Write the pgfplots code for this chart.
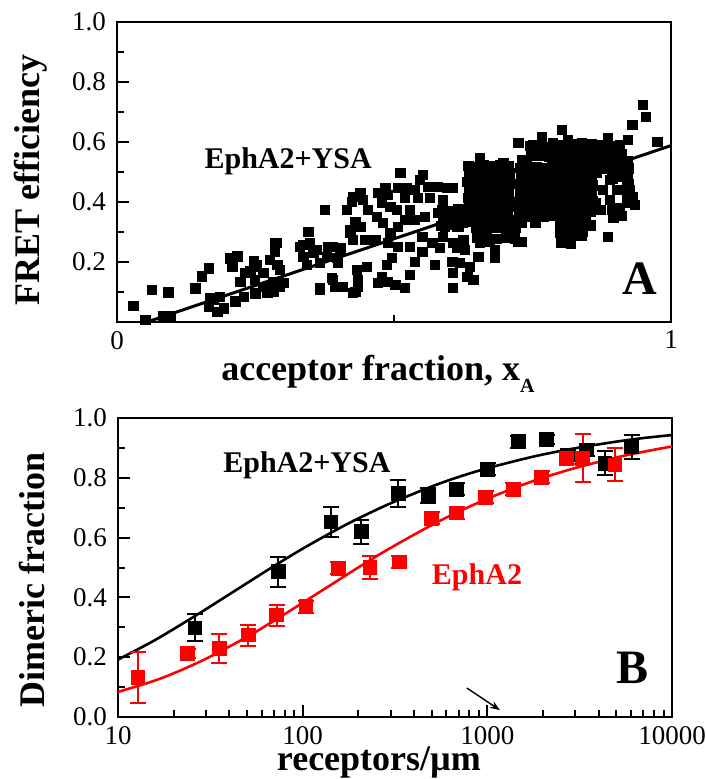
\documentclass[border=0pt]{standalone}
\usepackage{fontspec}
\setmainfont{Liberation Serif}
\usepackage{pgfplots}
\pgfplotsset{compat=1.18}
\usetikzlibrary{arrows.meta}
\definecolor{fitred}{RGB}{255,0,0}

\pgfplotsset{
  panel/.style={
    scale only axis, width=277pt,
    axis line style={line width=1pt},
    tick style={line width=1pt, black},
    major tick length=6pt, minor tick length=3.5pt,
    tick align=inside, tick pos=left,
    ticklabel style={font=\fontsize{13.5}{16}\selectfont},
    yticklabel style={xshift=-2pt},
    xticklabel style={yshift=-1pt},
    /pgf/number format/assume math mode=true,
    label style={font=\fontsize{18}{21}\selectfont\bfseries},
    yticklabel style={/pgf/number format/.cd, fixed, fixed zerofill, precision=1},
  },
  dots/.style={only marks, mark=square*, mark size=2.4pt, black},
}

\begin{document}
\begin{tikzpicture}
% ---- panel A ----
\begin{axis}[panel,
  at={(58.5pt,-11pt)}, anchor=north west, height=150pt,
  xmin=0, xmax=1, ymin=0, ymax=1,
  xtick={0,1}, xticklabels={0,1}, minor xtick={0.5},
  ytick={0.2,0.4,0.6,0.8,1.0}, minor ytick={0.1,0.3,0.5,0.7,0.9},
  ylabel={FRET efficiency},
  ylabel style={at={(axis description cs:-0.155,0.473)}, anchor=center},
  xlabel={acceptor fraction, x\raisebox{-6pt}{\fontsize{10}{10}\selectfont A}},
  xlabel style={at={(axis description cs:0.471,0)}, anchor=base, yshift=-29pt},
]
% scattered cells
\addplot[dots] coordinates {
(0.030,0.054) (0.051,0.007) (0.063,0.107) (0.093,0.099) (0.084,0.018) (0.096,0.018)
(0.141,0.112) (0.153,0.151) (0.166,0.179) (0.166,0.051) (0.175,0.073) (0.181,0.034)
(0.186,0.084) (0.193,0.046) (0.205,0.212) (0.208,0.184) (0.217,0.218) (0.214,0.068)
(0.223,0.134) (0.229,0.084) (0.241,0.168) (0.247,0.201) (0.250,0.096)
(0.168,0.080) (0.231,0.163) (0.249,0.183) (0.264,0.117) (0.271,0.097) (0.285,0.263)
(0.289,0.190) (0.282,0.133) (0.294,0.117) (0.336,0.257) (0.345,0.300) (0.354,0.230)
(0.366,0.107) (0.375,0.373) (0.381,0.250) (0.390,0.140) (0.397,0.213) (0.403,0.247)
(0.415,0.373) (0.421,0.297) (0.426,0.097) (0.426,0.417) (0.435,0.140) (0.430,0.333)
(0.435,0.117)
(0.252,0.190) (0.264,0.163) (0.249,0.140) (0.267,0.117) (0.276,0.207) (0.285,0.233)
(0.288,0.263) (0.282,0.100) (0.294,0.173) (0.300,0.130) (0.330,0.250) (0.336,0.217)
(0.348,0.263) (0.343,0.190) (0.361,0.240) (0.366,0.197) (0.366,0.113) (0.379,0.217)
(0.390,0.250) (0.388,0.147) (0.394,0.117) (0.399,0.197) (0.403,0.240) (0.408,0.117)
(0.421,0.307) (0.424,0.400) (0.426,0.273) (0.430,0.100) (0.439,0.430) (0.439,0.317)
(0.433,0.173) (0.444,0.407) (0.448,0.273) (0.451,0.183) (0.453,0.373) (0.469,0.350)
(0.466,0.273) (0.471,0.430) (0.478,0.397) (0.480,0.330) (0.471,0.130) (0.478,0.150)
(0.484,0.447) (0.487,0.190)
(0.511,0.497) (0.507,0.447) (0.489,0.423) (0.493,0.383) (0.505,0.373) (0.520,0.413)
(0.529,0.373) (0.538,0.440) (0.547,0.473) (0.552,0.490) (0.543,0.413) (0.565,0.413)
(0.556,0.350) (0.538,0.340) (0.520,0.340) (0.507,0.317) (0.493,0.297) (0.489,0.263)
(0.507,0.250) (0.529,0.250) (0.551,0.283) (0.569,0.263) (0.583,0.247) (0.496,0.213)
(0.538,0.200) (0.551,0.233) (0.529,0.157) (0.574,0.190) (0.489,0.133) (0.502,0.123)
(0.520,0.113) (0.579,0.450) (0.596,0.447) (0.605,0.447) (0.588,0.407) (0.579,0.363)
(0.592,0.317) (0.605,0.350) (0.614,0.317) (0.588,0.283) (0.606,0.263) (0.625,0.273)
(0.614,0.247) (0.628,0.240) (0.605,0.200) (0.619,0.197) (0.637,0.183) (0.606,0.163)
(0.632,0.150) (0.643,0.140) (0.606,0.113) (0.652,0.217) (0.623,0.330) (0.634,0.363)
(0.637,0.417) (0.632,0.467) (0.643,0.500) (0.655,0.547) (0.659,0.517) (0.652,0.467)
(0.661,0.450) (0.664,0.413) (0.652,0.373) (0.670,0.347) (0.664,0.297) (0.650,0.317)
(0.673,0.267) (0.655,0.263) (0.682,0.240) (0.682,0.213) (0.677,0.513) (0.686,0.457)
(0.697,0.530) (0.704,0.500) (0.706,0.467) (0.695,0.413) (0.688,0.373) (0.700,0.363)
(0.713,0.383) (0.691,0.313) (0.706,0.313) (0.722,0.340) (0.715,0.297) (0.724,0.267)
(0.731,0.540) (0.727,0.440) (0.724,0.597) (0.733,0.407) (0.561,0.450) (0.523,0.447)
(0.949,0.723) (0.955,0.683) (0.930,0.657) (0.922,0.607) (0.975,0.600) (0.886,0.613)
(0.803,0.640) (0.767,0.617) (0.751,0.590) (0.787,0.597) (0.814,0.607) (0.839,0.597)
(0.854,0.583) (0.740,0.540) (0.764,0.563) (0.787,0.563) (0.818,0.550) (0.848,0.563)
(0.875,0.573) (0.903,0.563) (0.913,0.530) (0.733,0.507) (0.758,0.517) (0.782,0.507)
(0.823,0.507) (0.841,0.517) (0.877,0.540) (0.895,0.517) (0.908,0.497) (0.740,0.463)
(0.764,0.473) (0.782,0.450) (0.794,0.483) (0.830,0.473) (0.848,0.473) (0.866,0.497)
(0.890,0.473) (0.921,0.473) (0.926,0.440) (0.931,0.417) (0.733,0.430) (0.751,0.417)
(0.776,0.417) (0.800,0.430) (0.830,0.440) (0.845,0.430) (0.877,0.440) (0.903,0.440)
(0.745,0.383) (0.769,0.397) (0.794,0.397) (0.818,0.407) (0.841,0.397) (0.863,0.397)
(0.890,0.407) (0.921,0.397) (0.935,0.390) (0.758,0.350) (0.782,0.363) (0.805,0.363)
(0.832,0.363) (0.854,0.367) (0.872,0.373) (0.755,0.330) (0.818,0.333) (0.841,0.340)
(0.812,0.317) (0.800,0.297) (0.823,0.297) (0.812,0.273) (0.841,0.300) (0.886,0.283)
(0.731,0.267) (0.731,0.330)
};
% the dense core of the cloud
\addplot[dots] coordinates {
(0.634,0.520) (0.648,0.515) (0.662,0.522) (0.677,0.518) (0.691,0.524) (0.706,0.520)
(0.636,0.493) (0.650,0.497) (0.664,0.490) (0.679,0.495) (0.693,0.491) (0.708,0.496)
(0.633,0.467) (0.647,0.463) (0.661,0.470) (0.676,0.465) (0.690,0.468) (0.705,0.462)
(0.635,0.440) (0.649,0.444) (0.663,0.437) (0.678,0.441) (0.692,0.438) (0.707,0.443)
(0.634,0.413) (0.648,0.410) (0.662,0.416) (0.677,0.411) (0.691,0.415) (0.706,0.409)
(0.636,0.387) (0.650,0.390) (0.664,0.384) (0.679,0.389) (0.693,0.385) (0.708,0.388)
(0.633,0.360) (0.647,0.357) (0.661,0.363) (0.676,0.358) (0.690,0.362) (0.705,0.356)
(0.635,0.333) (0.649,0.336) (0.663,0.330) (0.678,0.335) (0.692,0.331) (0.707,0.334)
(0.587,0.373) (0.601,0.370) (0.616,0.375) (0.589,0.347) (0.603,0.350) (0.614,0.345)
(0.586,0.320) (0.600,0.323) (0.617,0.318)
(0.727,0.513) (0.742,0.510) (0.756,0.516) (0.771,0.512) (0.785,0.515)
(0.729,0.487) (0.744,0.490) (0.758,0.484) (0.773,0.489) (0.787,0.485)
(0.726,0.460) (0.741,0.457) (0.755,0.463) (0.770,0.458) (0.784,0.462)
(0.728,0.433) (0.743,0.436) (0.757,0.430) (0.772,0.435) (0.786,0.431)
(0.727,0.407) (0.742,0.404) (0.756,0.410) (0.771,0.405) (0.785,0.409)
(0.729,0.380) (0.744,0.383) (0.758,0.377) (0.773,0.382) (0.787,0.378)
(0.726,0.353) (0.741,0.350) (0.755,0.356) (0.770,0.351) (0.784,0.355)
(0.648,0.313) (0.666,0.310) (0.684,0.316) (0.702,0.311) (0.720,0.315)
(0.650,0.280) (0.668,0.283) (0.686,0.277) (0.704,0.282) (0.718,0.278)
(0.745,0.587) (0.764,0.590) (0.782,0.584) (0.747,0.553) (0.766,0.556) (0.780,0.550)
(0.800,0.590) (0.814,0.587) (0.829,0.592) (0.843,0.588) (0.857,0.591) (0.875,0.590) (0.894,0.586) (0.908,0.590)
(0.802,0.563) (0.816,0.566) (0.831,0.560) (0.845,0.565) (0.859,0.561) (0.877,0.563) (0.896,0.564) (0.910,0.560)
(0.799,0.537) (0.813,0.534) (0.828,0.540) (0.842,0.535) (0.856,0.539) (0.874,0.537) (0.893,0.533) (0.907,0.538) (0.921,0.535)
(0.801,0.510) (0.815,0.513) (0.830,0.507) (0.844,0.512) (0.858,0.508) (0.876,0.510) (0.895,0.511) (0.909,0.507) (0.923,0.512)
(0.800,0.483) (0.814,0.480) (0.829,0.486) (0.843,0.481) (0.857,0.485) (0.894,0.479) (0.908,0.484) (0.922,0.481)
(0.802,0.457) (0.816,0.460) (0.831,0.454) (0.845,0.459) (0.859,0.455) (0.923,0.458)
(0.799,0.430) (0.813,0.427) (0.828,0.433) (0.842,0.428) (0.856,0.432) (0.921,0.428)
(0.801,0.403) (0.815,0.406) (0.830,0.400) (0.844,0.405) (0.858,0.401) (0.922,0.404)
(0.800,0.377) (0.814,0.374) (0.829,0.380) (0.843,0.375) (0.857,0.379) (0.894,0.373) (0.908,0.378)
(0.802,0.350) (0.816,0.353) (0.831,0.347) (0.845,0.352) (0.896,0.349) (0.910,0.353)
(0.800,0.323) (0.818,0.320) (0.836,0.325) (0.854,0.321) (0.802,0.290) (0.820,0.293)
(0.838,0.288) (0.801,0.263) (0.819,0.260)
};
% linear fit
\addplot[black, line width=1.5pt] coordinates {(0.054,0) (1,0.588)};
\node[font=\fontsize{15}{18}\selectfont\bfseries] at (rel axis cs:0.309,0.537) {EphA2+YSA};
\node[font=\fontsize{24}{28}\selectfont\bfseries] at (rel axis cs:0.944,0.143) {A};
\end{axis}

% ---- panel B ----
\begin{axis}[panel,
  at={(59pt,-209pt)}, anchor=north west, height=149.5pt,
  xmode=log, xmin=10, xmax=10000, ymin=0, ymax=1,
  xtick={10,100,1000,10000}, xticklabels={10,100,1000,10000},
  minor xtick={20,30,40,50,60,70,80,90,200,300,400,500,600,700,800,900,2000,3000,4000,5000,6000,7000,8000,9000},
  ytick={0,0.2,0.4,0.6,0.8,1.0}, minor ytick={0.1,0.3,0.5,0.7,0.9},
  ylabel={Dimeric fraction},
  ylabel style={at={(axis description cs:-0.155,0.458)}, anchor=center},
  xlabel={receptors/µm},
  xlabel style={at={(axis description cs:0.471,0)}, anchor=base, yshift=-26.5pt},
]
% fits
\addplot[black, line width=1.3pt, smooth] coordinates {
(10,0.192) (15,0.249) (20,0.294) (30,0.361) (50,0.448) (70,0.505) (100,0.563)
(150,0.624) (200,0.664) (300,0.715) (500,0.771) (700,0.803) (1000,0.832)
(1500,0.860) (2000,0.878) (3000,0.899) (5000,0.921) (7000,0.933) (10000,0.943)};
\addplot[fitred, line width=1.3pt, smooth] coordinates {
(10,0.084) (15,0.117) (20,0.146) (30,0.195) (50,0.268) (70,0.322) (100,0.382)
(150,0.451) (200,0.500) (300,0.566) (500,0.642) (700,0.687) (1000,0.730)
(1500,0.773) (2000,0.800) (3000,0.833) (5000,0.868) (7000,0.887) (10000,0.905)};
% EphA2+YSA data
\addplot[only marks, mark=square*, mark size=3.4pt, black,
  error bars/.cd, y dir=both, y explicit,
  error bar style={line width=1pt, black}, error mark options={rotate=90, mark size=4pt, line width=1pt}]
  coordinates {
(26.1,0.298) +- (0,0.045)
(73.8,0.486) +- (0,0.05)
(142,0.653) +- (0,0.05)
(208,0.620) +- (0,0.04)
(330,0.748) +- (0,0.045)
(479,0.742) +- (0,0.025)
(682,0.761) +- (0,0.02)
(1002,0.828) +- (0,0.02)
(1469,0.921) +- (0,0.02)
(2094,0.929) +- (0,0.015)
(2742,0.876) +- (0,0.02)
(3446,0.893) +- (0,0.02)
(4335,0.848) +- (0,0.04)
(6040,0.904) +- (0,0.04)
};
% EphA2 data
\addplot[only marks, mark=square*, mark size=3.4pt, fitred,
  error bars/.cd, y dir=both, y explicit,
  error bar style={line width=1pt, fitred}, error mark options={rotate=90, mark size=4pt, line width=1pt, fitred}]
  coordinates {
(12.8,0.132) +- (0,0.085)
(23.8,0.213) +- (0,0.015)
(35.4,0.229) +- (0,0.05)
(50.8,0.274) +- (0,0.035)
(72.2,0.341) +- (0,0.035)
(104,0.369) +- (0,0.02)
(156,0.497) +- (0,0.02)
(231,0.500) +- (0,0.04)
(334,0.519) +- (0,0.02)
(499,0.664) +- (0,0.02)
(682,0.683) +- (0,0.02)
(979,0.735) +- (0,0.02)
(1381,0.761) +- (0,0.02)
(1967,0.802) +- (0,0.02)
(2687,0.865) +- (0,0.02)
(3276,0.865) +- (0,0.08)
(4910,0.843) +- (0,0.055)
};
\draw[-{Stealth[length=5pt]}, line width=0.7pt] (axis cs:774,0.097) -- (axis cs:1170,0.023);
\node[font=\fontsize{15}{18}\selectfont\bfseries] at (rel axis cs:0.341,0.843) {EphA2+YSA};
\node[font=\fontsize{15}{18}\selectfont\bfseries, text=fitred] at (rel axis cs:0.648,0.468) {EphA2};
\node[font=\fontsize{24}{28}\selectfont\bfseries] at (rel axis cs:0.928,0.164) {B};
\node[font=\fontsize{13}{15}\selectfont\bfseries] at (rel axis cs:0.666,-0.080) {2};
\end{axis}
\pgfresetboundingbox
\path[use as bounding box] (0,0) rectangle (352.5pt,-389.5pt);
\end{tikzpicture}
\end{document}
